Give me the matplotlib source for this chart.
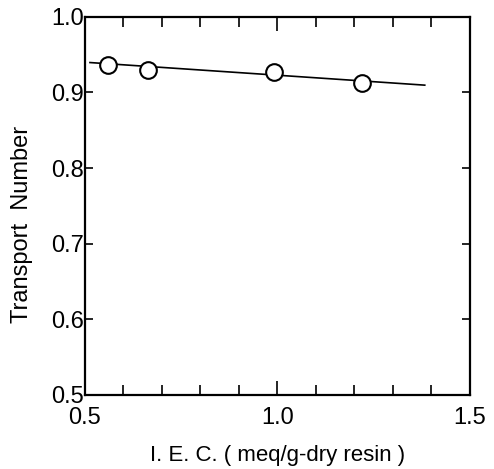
import matplotlib.pyplot as plt
from matplotlib.ticker import MultipleLocator

plt.rcParams['font.family'] = ['Liberation Sans', 'DejaVu Sans']

# measured points
iec = [0.559, 0.664, 0.992, 1.220]
transport = [0.9365, 0.930, 0.927, 0.912]

# fitted line end points
fit_x = [0.513, 1.383]
fit_y = [0.9396, 0.9097]

fig = plt.figure(figsize=(4.94, 4.69), dpi=100)
ax = fig.add_axes([0.172, 0.158, 0.779, 0.806])

ax.plot(fit_x, fit_y, color='black', linewidth=1.2, zorder=2)
ax.plot(iec, transport, linestyle='none', marker='o', markersize=12,
        markerfacecolor='white', markeredgecolor='black', markeredgewidth=1.5, zorder=3)

ax.set_xlim(0.5, 1.5)
ax.set_ylim(0.5, 1.0)
ax.xaxis.set_major_locator(MultipleLocator(0.5))
ax.xaxis.set_minor_locator(MultipleLocator(0.1))
ax.yaxis.set_major_locator(MultipleLocator(0.1))
ax.xaxis.set_major_formatter(plt.FuncFormatter(lambda v, p: f'{v:.1f}'))
ax.yaxis.set_major_formatter(plt.FuncFormatter(lambda v, p: f'{v:.1f}'))

for s in ax.spines.values():
    s.set_linewidth(1.6)

ax.tick_params(axis='x', which='major', direction='in', top=True, length=10, width=1.2,
               labelsize=17, pad=9)
ax.tick_params(axis='x', which='minor', direction='in', top=True, length=7, width=1.2)
ax.tick_params(axis='y', which='major', direction='in', right=True, length=6, width=1.2,
               labelsize=17, pad=1)

ax.set_xlabel('I. E. C. ( meq/g-dry resin )', fontsize=16, labelpad=11)
ax.set_ylabel('Transport  Number', fontsize=17)
ax.yaxis.set_label_coords(-0.135, 0.45)

fig.savefig('out.png', dpi=100)
